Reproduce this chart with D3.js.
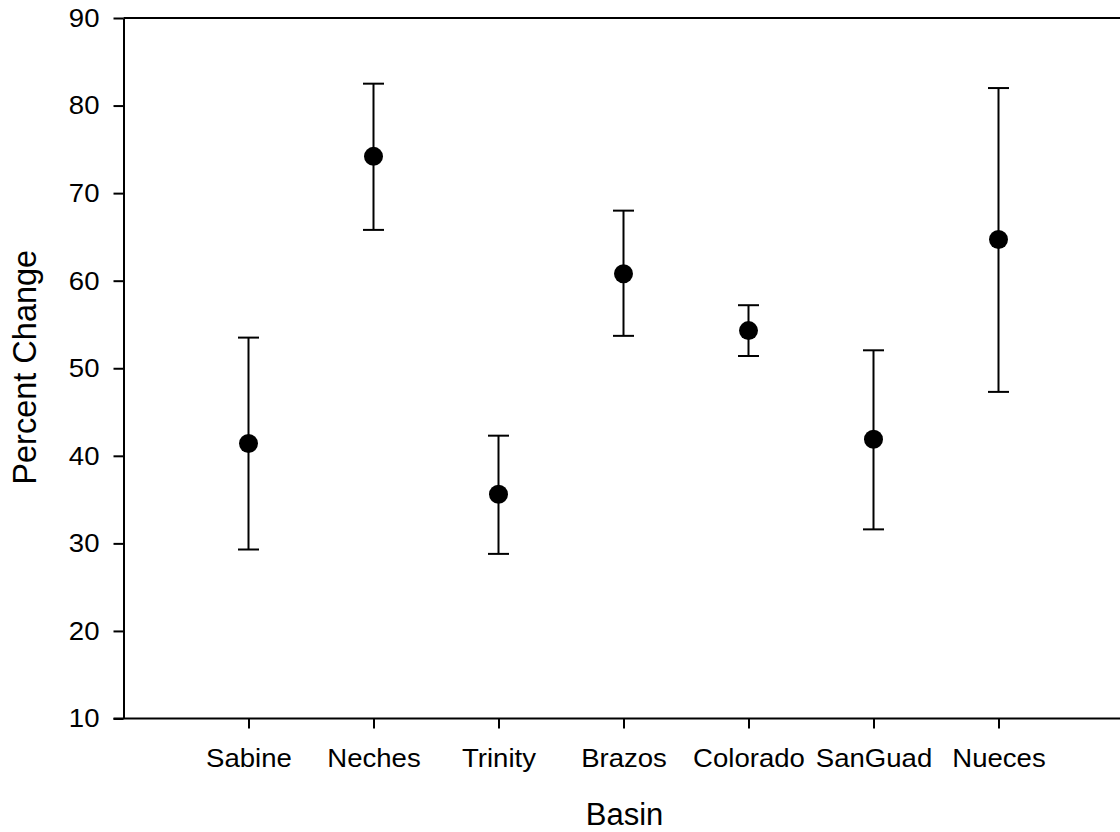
<!DOCTYPE html>
<html>
<head>
<meta charset="utf-8">
<script src="https://cdn.jsdelivr.net/npm/d3@7"></script>
<style>
  html, body { margin: 0; padding: 0; background: #fff; }
  svg { display: block; }
  text { font-family: "Liberation Sans", Arial, sans-serif; fill: #000; }
</style>
</head>
<body>
<svg id="chart" width="1120" height="832"></svg>
<script>
// Basins along the x axis
const basins = ["Sabine", "Neches", "Trinity", "Brazos", "Colorado", "SanGuad", "Nueces"];
// Mean percent change per basin
const meanValues = [41.4, 74.2, 35.6, 60.8, 54.3, 41.9, 64.7];
// Upper and lower ends of the error bars
const upperValues = [53.5, 82.5, 42.3, 68.0, 57.2, 52.05, 82.0];
const lowerValues = [29.3, 65.8, 28.8, 53.7, 51.4, 31.6, 47.3];
// Y axis ticks
const yTicks = [10, 20, 30, 40, 50, 60, 70, 80, 90];

const svg = d3.select("#chart");
const plotLeft = 123.5, plotRight = 1123.5, plotTop = 18, plotBottom = 718.5;
const tickFont = 26, stretch = 1.06;

const x = d3.scalePoint().domain(basins).range([plotLeft, plotRight]).padding(1);
const y = d3.scaleLinear().domain([10, 90]).range([plotBottom, plotTop]);

const rows = basins.map((b, i) => ({
  basin: b, mean: meanValues[i], hi: upperValues[i], lo: lowerValues[i]
}));

// Frame (top and right edges)
svg.append("path")
  .attr("d", `M${plotLeft},${plotTop}H${plotRight}V${plotBottom}`)
  .attr("fill", "none").attr("stroke", "#000").attr("stroke-width", 2);

// Y axis
const yAxis = svg.append("g")
  .attr("transform", `translate(${plotLeft},0)`)
  .call(d3.axisLeft(y).tickValues(yTicks).tickSize(10).tickSizeOuter(0).tickPadding(14));
yAxis.select(".domain").attr("stroke-width", 2);
yAxis.selectAll(".tick line").attr("stroke-width", 2);
yAxis.selectAll(".tick text")
  .attr("font-size", tickFont).attr("font-family", "Liberation Sans, Arial, sans-serif")
  .attr("transform", `scale(${stretch},1)`).attr("x", -24 / stretch);

// X axis
const xAxis = svg.append("g")
  .attr("transform", `translate(0,${plotBottom})`)
  .call(d3.axisBottom(x).tickSize(10).tickSizeOuter(0).tickPadding(14));
xAxis.select(".domain").attr("stroke-width", 2)
  .attr("d", `M${plotLeft - 10},0H${plotRight}`);
xAxis.selectAll(".tick line").attr("stroke-width", 2);
xAxis.selectAll(".tick text")
  .attr("font-size", tickFont).attr("font-family", "Liberation Sans, Arial, sans-serif")
  .attr("transform", `scale(${stretch},1)`).attr("dy", null).attr("y", 48.5);

// Axis titles
svg.append("text")
  .attr("x", (plotLeft + plotRight) / 2 + 1).attr("y", 825)
  .attr("text-anchor", "middle").attr("font-size", 31)
  .text("Basin");
svg.append("text")
  .attr("transform", `translate(36,${(plotTop + plotBottom) / 2 - 1}) rotate(-90)`)
  .attr("text-anchor", "middle").attr("font-size", 32.5)
  .text("Percent Change");

// Error bars
const bars = svg.append("g").attr("stroke", "#000").attr("stroke-width", 2);
bars.selectAll("line.stem").data(rows).join("line").attr("class", "stem")
  .attr("x1", d => x(d.basin)).attr("x2", d => x(d.basin))
  .attr("y1", d => y(d.hi)).attr("y2", d => y(d.lo));
bars.selectAll("line.cap-hi").data(rows).join("line").attr("class", "cap-hi")
  .attr("x1", d => x(d.basin) - 10.5).attr("x2", d => x(d.basin) + 10.5)
  .attr("y1", d => y(d.hi)).attr("y2", d => y(d.hi));
bars.selectAll("line.cap-lo").data(rows).join("line").attr("class", "cap-lo")
  .attr("x1", d => x(d.basin) - 10.5).attr("x2", d => x(d.basin) + 10.5)
  .attr("y1", d => y(d.lo)).attr("y2", d => y(d.lo));

// Means
svg.append("g").selectAll("circle").data(rows).join("circle")
  .attr("cx", d => x(d.basin)).attr("cy", d => y(d.mean))
  .attr("r", 9.5).attr("fill", "#000");
</script>
</body>
</html>
